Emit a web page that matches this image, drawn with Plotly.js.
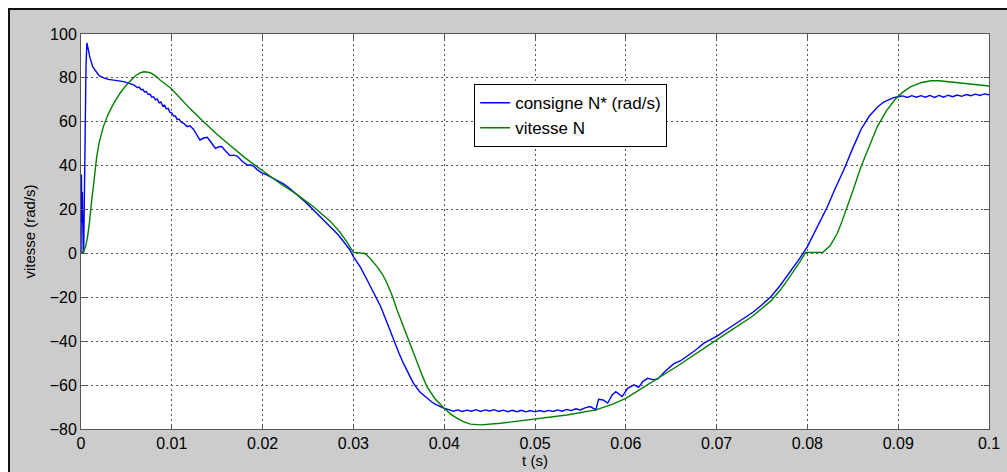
<!DOCTYPE html>
<html>
<head>
<meta charset="utf-8">
<script src="https://cdn.plot.ly/plotly-3.0.1.min.js"></script>
<style>
html,body{margin:0;padding:0;background:#fff;overflow:hidden;width:1007px;height:472px;}
#frame{position:absolute;left:8px;top:8px;width:999px;height:464px;border-left:2px solid #111;border-top:2px solid #111;background:#cccccc;}
#chart{width:997px;height:462px;}
</style>
</head>
<body>
<div id="frame"><div id="chart"></div></div>
<script>
// consigne N* (rad/s)
const tConsigne = [0,0.00005,0.0001,0.00015,0.0002,0.00025,0.0003,0.0004,0.00055,0.00065,0.0008,0.001,0.0013,0.0017,0.002,0.0025,0.003,0.0036,0.0042,0.0047,0.0053,0.0058,0.0062,0.0064,0.0066,0.0068,0.007,0.0072,0.0074,0.0076,0.0078,0.008,0.0082,0.0084,0.0086,0.0088,0.009,0.0092,0.0094,0.0096,0.0098,0.01,0.0102,0.0104,0.0106,0.0108,0.011,0.0113,0.0117,0.012,0.0124,0.0128,0.0131,0.0135,0.0139,0.0144,0.0148,0.0152,0.0155,0.016,0.0164,0.0168,0.0172,0.0177,0.0183,0.0187,0.019,0.0194,0.0199,0.0204,0.021,0.0216,0.0223,0.023,0.0238,0.0247,0.0256,0.0265,0.0275,0.0283,0.029,0.0296,0.03,0.0308,0.0315,0.0322,0.033,0.0337,0.0344,0.035,0.0355,0.036,0.0366,0.0373,0.0381,0.0386,0.039,0.0395,0.04,
0.0405,0.041,0.0415,0.042,0.0425,0.043,0.0435,0.044,0.0445,0.045,0.0455,0.046,0.0465,0.047,0.0475,0.048,0.0485,0.049,0.0495,0.05,0.0505,0.051,0.0515,0.052,0.0525,0.053,0.0535,0.054,0.0545,0.055,0.0555,0.0561,
0.0567,0.057,0.0575,0.058,0.0585,0.0589,0.0596,0.0602,0.0609,0.0614,0.0619,0.0624,0.063,0.0635,0.0644,0.0653,0.066,0.0668,0.0677,0.0686,0.07,0.071,0.072,0.073,0.074,0.075,0.076,0.077,0.078,0.079,0.08,0.081,0.0822,0.083,0.084,0.085,0.0859,0.0868,0.0877,0.0884,0.089,0.0895,0.09,
0.0905,0.091,0.0915,0.092,0.0925,0.093,0.0935,0.094,0.0945,0.095,0.0955,0.096,0.0965,0.097,0.0975,0.098,0.0985,0.099,0.0995,0.1];
const vConsigne = [0,36,14,28,4,0,1,40,85,96,93,89,85,83,81,80,79.3,79,78.6,78.3,77.5,76.8,75.6,75.8,74.6,74.8,73.6,73.8,72.4,72.6,71.2,71.4,70,70.4,68.6,69,67.2,67.6,65.9,66.1,64.3,64,62.6,62.6,61,61.2,60,59.3,57.8,58.2,56.5,53.8,51.7,52.6,52.9,50.2,47.9,48.6,48.7,46.3,44.6,44.8,44.4,42.2,40.3,40.3,39.8,38.2,36.7,35.9,34.5,33.3,31.7,29.6,26.8,23.5,19.8,16.2,12.2,8.6,5,1.7,-1.5,-6.5,-12,-17.6,-24.2,-31.5,-39.4,-45.3,-50,-54.5,-59.1,-63,-66,-67.6,-68.7,-69.8,-70.6,
-71.2,-71.9,-71.3,-72.0,-71.4,-71.9,-71.2,-72.0,-71.3,-71.8,-71.2,-72.0,-71.4,-72.1,-71.5,-72.1,-71.5,-72.2,-71.6,-72.2,-71.6,-72.1,-71.5,-72.0,-71.3,-71.9,-71.1,-71.6,-70.8,-71.3,-70.4,-69.8,
-71.3,-66.5,-66.8,-68.2,-64.5,-63,-65.2,-61.5,-59.9,-61,-58.3,-56.9,-57.5,-57.3,-53.5,-50.2,-49,-46.7,-44,-40.9,-37.8,-35,-32.3,-29.6,-26.8,-23.4,-19.6,-14.6,-9,-3.2,3.1,11.5,21.3,29,38,48,56.5,62.5,66.6,69,70.3,71,71.4,
71.8,71.1,71.9,71.2,71.9,71.2,72.0,71.1,72.0,71.2,72.1,71.4,72.2,71.6,72.4,71.9,72.6,72.0,72.7,72.3];

// vitesse N
const tVitesse = [0,0.0003,0.0005,0.0007,0.0009,0.001,0.0012,0.00136,0.00155,0.00173,0.002,0.00246,0.003,0.0036,0.0043,0.005,0.006,0.0065,0.0069,0.0074,0.0078,0.0083,0.0087,0.0093,0.0099,0.0106,0.012,0.0135,0.015,0.0165,0.018,0.0199,0.0219,0.0238,0.0256,0.0275,0.0285,0.0293,0.0297,0.03,0.0313,0.0319,0.0326,0.0332,0.0337,0.0343,0.0348,0.0359,0.037,0.0376,0.0381,0.039,0.04,0.0407,0.0414,0.0421,0.0429,0.044,0.0462,0.05,0.0535,0.0567,0.0585,0.06,0.0627,0.0657,0.07,0.072,0.074,0.076,0.077,0.078,0.0786,0.0792,0.0798,0.0817,0.0825,0.0833,0.0838,0.0844,0.085,0.0859,0.0868,0.0877,0.0887,0.0896,0.0905,0.0914,0.0925,0.0936,0.0945,0.0954,0.097,0.1];
const vVitesse = [0,1,3,7,13,18.4,25,30.4,37.5,44.1,50.5,57.8,63.5,68.4,73,76.8,81,82.3,82.8,82.6,82,80.6,79,77,75.3,72.2,66,60,54.2,49,43.8,38,32,26.8,21.3,14.5,9.8,5.2,2.8,0.5,0,-2.5,-6,-9.5,-13.6,-19.5,-25.7,-37.9,-50,-55.8,-60.7,-66.3,-70.5,-73.2,-75,-76.6,-77.8,-78.1,-77.4,-75.4,-73.6,-71.3,-68.8,-66,-59.1,-51.3,-39.4,-34,-28.5,-21.5,-16.8,-11,-7.5,-3.6,0.4,0.5,3.5,9.2,14.5,21.3,28.5,39.5,49,57.8,65,69.9,73.5,76,77.8,78.7,78.7,78.3,77.5,76.3];

const xTicks = [0,0.01,0.02,0.03,0.04,0.05,0.06,0.07,0.08,0.09,0.1];
const xTickText = ["0","0.01","0.02","0.03","0.04","0.05","0.06","0.07","0.08","0.09","0.1"];
const yTicks = [-80,-60,-40,-20,0,20,40,60,80,100];

const fam = "Liberation Sans, Arial, sans-serif";
const font = {family:fam, size:16, color:"#000"};
const traces = [
  {x:tConsigne, y:vConsigne, type:"scatter", mode:"lines", name:"consigne N* (rad/s)", line:{color:"#0000ff", width:1.4}},
  {x:tVitesse, y:vVitesse, type:"scatter", mode:"lines", name:"vitesse N", line:{color:"#008000", width:1.4}}
];
const axisCommon = {
  showline:true, linecolor:"#555", linewidth:1, mirror:"ticks",
  ticks:"inside", ticklen:5, tickcolor:"#555", tickwidth:1,
  showgrid:true, gridcolor:"#555", gridwidth:1, griddash:"2px,3px",
  zeroline:false, tickfont:font
};
const layout = {
  width:997, height:462,
  margin:{l:71, r:18, t:24, b:43},
  paper_bgcolor:"#cccccc", plot_bgcolor:"#ffffff",
  font:font,
  showlegend:true,
  legend:{x:0.433, y:0.873, xanchor:"left", yanchor:"top", bgcolor:"#ffffff", bordercolor:"#000", borderwidth:1, font:{family:fam, size:17, color:"#000"}, tracegroupgap:0},
  xaxis:Object.assign({}, axisCommon, {range:[0,0.1], tickvals:xTicks, ticktext:xTickText, title:{text:"t (s)", font:{family:fam, size:15}, standoff:0}}),
  yaxis:Object.assign({}, axisCommon, {range:[-80,100], tickvals:yTicks, title:{text:"vitesse (rad/s)", font:{family:fam, size:15}, standoff:10}})
};
Plotly.newPlot("chart", traces, layout, {staticPlot:true, displayModeBar:false});
</script>
</body>
</html>
